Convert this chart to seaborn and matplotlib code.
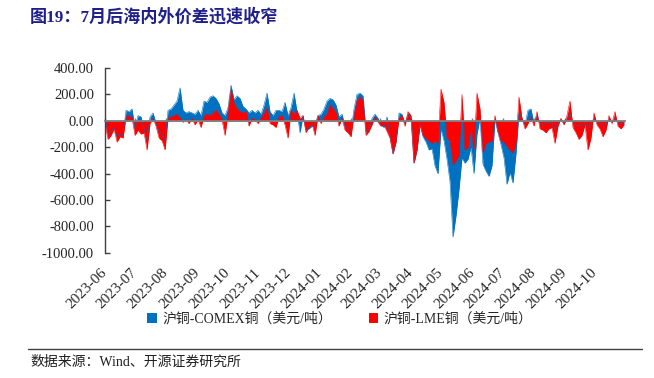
import pandas as pd
import seaborn as sns
import matplotlib.pyplot as plt

# 沪铜-COMEX铜 / 沪铜-LME铜 spreads (USD/t), 2023-06 .. 2024-10
comex = [40, -100, -80, -50, -120, -100, -110, 80, 70, 90,
         -60, 40, 30, -60, -150, 30, 60, -20, -80, -100,
         -150, 80, 90, 120, 150, 250, 80, 60, 70, 60,
         50, 80, 40, 150, 140, 180, 190, 170, 130, 60,
         40, 100, 270, 160, 190, 170, 110, 90, 60, 80,
         60, 80, 50, 120, 210, 70, 40, 80,
         80, 70, 140, 40, 100, 210, 70, -90, 40, -70,
         -60, -40, -20, 40, 50, 90, 150, 170, 160, 120,
         30, 50, -40, -60, -80, 90, 200, 210, 190, -80,
         -70, 20, 50, 20, -30, -50, 30, -120, -250, -160,
         60, 50, -20, 50, 20, -320, -220, -20, -120, -160,
         -220, -210, -340, -400, -60, -150, -290, -460,
         -880, -720, -520, -280, -320, -290, -200, -400, -100, 20,
         -330, -380, -420, -340, 10, -90, -180, -280, -480, -390,
         -470, -250, 60, 20, -30, 80, 90, -20, 40, -20,
         -30, -20, -10, -20, -60, -20, 10, -20, 10, 50,
         -10, -30, -40, -30, -10, -60, -30, 20, -10, -20,
         -30, -20, 10, -10, 20, -10, -20, -10]
lme = [-20, -140, -110, -60, -160, -120, -130, 30, 40, 20,
       -110, -70, -100, -90, -220, -20, 20, -40, -130, -150,
       -220, 20, 30, 40, 50, 20, -10, 10, -20, 20,
       -30, 10, -50, 40, 50, 40, 60, 80, 50, 10,
       -110, 60, 240, 130, 90, 70, 60, 70, -40, 20,
       10, -20, 20, 60, 100, -20, -30, -50,
       30, 40, -30, -130, 80, 50, 80, 20, 40, -90,
       -40, -20, -110, 40, -20, 30, 50, 120, 90, 60,
       -40, 20, -70, -90, -120, 40, 150, 180, 150, -110,
       -80, -30, 30, -10, -40, -30, -80, -130, -250, -160,
       20, 40, -40, 70, 40, -320, -220, -30, -110, -130,
       -150, -170, -150, -170, 240, 140, -130, -150,
       -330, -300, -260, 200, -220, -200, -50, -220, 210, 90,
       -240, -170, -160, -150, 40, -80, -150, -160, -190, -220,
       -240, -170, 180, 20, -60, -20, 30, -40, 70, -60,
       -70, -90, -60, -50, -170, -40, 20, -30, 40, 150,
       -50, -90, -140, -110, -30, -220, -130, 60, -30, -60,
       -120, -70, 40, -20, 70, -40, -60, -30]

dates = pd.date_range("2023-06-01", "2024-10-30", periods=len(comex))
month_ticks = pd.date_range("2023-06-01", "2024-10-01", freq="MS")
month_labels = [d.strftime("%Y-%m") for d in month_ticks]
y_ticks = [400, 200, 0, -200, -400, -600, -800, -1000]

df = pd.DataFrame({"date": dates, "comex": comex, "lme": lme})

sns.set_theme(style="white")
plt.rcParams["font.family"] = ["Liberation Serif", "Noto Sans CJK SC"]
plt.rcParams["axes.unicode_minus"] = False

blue = "#0070C0"
red = "#FF0000"

fig = plt.figure(figsize=(6.54, 3.78), dpi=100)
ax = fig.add_axes([0.1606, 0.331, 0.795, 0.489])

# COMEX behind, LME in front
ax.fill_between(df["date"], 0, df["comex"], color=blue, lw=0, interpolate=True,
                label="沪铜-COMEX铜（美元/吨）")
sns.lineplot(x="date", y="comex", data=df, color=blue, lw=0.4, ax=ax)
ax.fill_between(df["date"], 0, df["lme"], color=red, lw=0, interpolate=True,
                label="沪铜-LME铜（美元/吨）")
sns.lineplot(x="date", y="lme", data=df, color=red, lw=0.4, ax=ax)

ax.set_xlim(pd.Timestamp("2023-06-01"), pd.Timestamp("2024-10-31"))
ax.set_ylim(-1000, 400)
ax.set_yticks(y_ticks)
ax.set_yticklabels([f"{v:.2f}" for v in y_ticks], fontsize=10.5)
ax.set_xticks(month_ticks)
ax.set_xticklabels(month_labels, fontsize=9.8)
ax.set_xlabel("")
ax.set_ylabel("")

for s in ["top", "right"]:
    ax.spines[s].set_visible(False)
ax.spines["left"].set_color("#404040")
ax.spines["left"].set_linewidth(1.0)
ax.spines["bottom"].set_position(("data", 0))
ax.spines["bottom"].set_color("#808080")
ax.spines["bottom"].set_linewidth(1.3)
ax.spines["bottom"].set_zorder(5)
ax.tick_params(axis="y", direction="in", length=3.5, width=1, color="#404040",
               pad=8, left=True)
ax.tick_params(axis="x", direction="in", length=2.5, width=1, color="#808080",
               pad=108, bottom=True)
plt.setp(ax.get_xticklabels(), rotation=45, ha="right", va="center",
         rotation_mode="anchor")

ax.legend(loc="center", bbox_to_anchor=(0.52, 0.156), bbox_transform=fig.transFigure,
          ncol=2, frameon=False, fontsize=10, handlelength=0.7, handleheight=0.7,
          handletextpad=0.4, columnspacing=2.6)

fig.text(0.046, 0.955, "图19：7月后海内外价差迅速收窄", fontsize=12.3, fontweight="bold",
         color="#1F1F8C", va="center", ha="left")
fig.add_artist(plt.Line2D([0.043, 0.982], [0.077, 0.077], color="#404040", lw=1.0,
                          transform=fig.transFigure))
fig.text(0.046, 0.042, "数据来源：Wind、开源证券研究所", fontsize=10, color="#202020",
         va="center", ha="left")

fig.savefig("out.png", dpi=100)
